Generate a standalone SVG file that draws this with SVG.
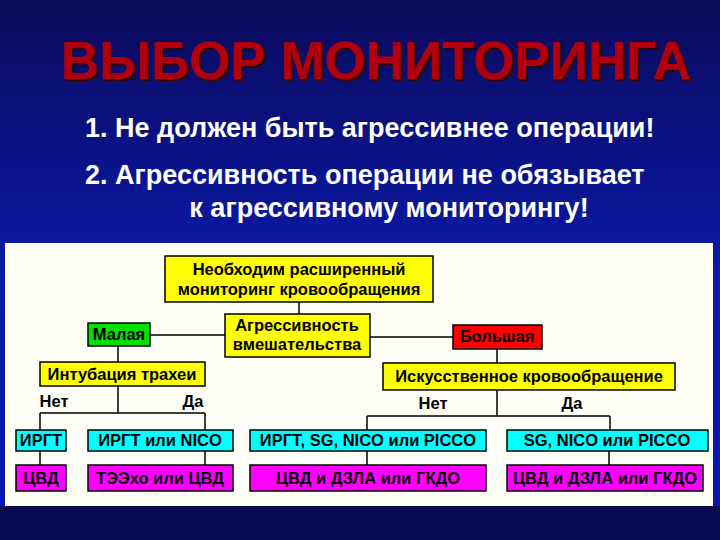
<svg xmlns="http://www.w3.org/2000/svg" width="720" height="540" viewBox="0 0 720 540">
<defs>
<linearGradient id="bg" x1="0" y1="0" x2="0" y2="1">
<stop offset="0" stop-color="#0a0a5a"/><stop offset="0.5" stop-color="#0a1aa8"/><stop offset="1" stop-color="#0a14b0"/>
</linearGradient>
<filter id="sh"><feDropShadow dx="2" dy="2" stdDeviation="0.5" flood-color="#300000"/></filter>
<style>
.b{stroke:#000;stroke-width:1.5}
.y{fill:#ffff00}.g{fill:#00e000}.r{fill:#ff0000}.c{fill:#00ffff}.m{fill:#ff00ff}
.t{font-family:"Liberation Sans",Arial,sans-serif;font-weight:bold;font-size:16.5px;fill:#000;text-anchor:middle}
.w{font-family:"Liberation Sans",Arial,sans-serif;font-weight:bold;font-size:27px;fill:#fff}
.l{stroke:#000;stroke-width:1.5;fill:none}
</style>
</defs>
<rect width="720" height="540" fill="url(#bg)"/>
<rect x="0" y="506" width="720" height="34" fill="#0a0a50"/>
<text x="376" y="79" text-anchor="middle" font-family="Liberation Sans,Arial,sans-serif" font-weight="bold" font-size="53" fill="#b00010" filter="url(#sh)">ВЫБОР МОНИТОРИНГА</text>
<text class="w" x="85" y="137">1. Не должен быть агрессивнее операции!</text>
<text class="w" x="85" y="184">2. Агрессивность операции не обязывает</text>
<text class="w" x="389" y="217" text-anchor="middle">к агрессивному мониторингу!</text>
<rect x="5" y="243" width="708" height="263" fill="#fffff8"/>
<g id="connectors">
<path class="l" d="M299 302V314M150 335H225M370 337H453M118 346V362M497 349V363M118 386V413M40 413H205M40 413V430M205 413V430M497 390V416M367 416H610M367 416V430M610 416V430M40 451V465M205 451V465M367 451V465M609 451V465"/>
</g>
<g id="n1"><rect class="b y" x="165" y="256" width="268" height="46"/><text class="t" x="299" y="275">Необходим расширенный</text><text class="t" x="299" y="295">мониторинг кровообращения</text></g>
<g id="n2"><rect class="b y" x="225" y="314" width="145" height="43"/><text class="t" x="297" y="331">Агрессивность</text><text class="t" x="297" y="350">вмешательства</text></g>
<g id="n3"><rect class="b g" x="88" y="323" width="62" height="23"/><text class="t" x="119" y="340">Малая</text></g>
<g id="n4"><rect class="b r" x="453" y="325" width="89" height="24"/><text class="t" x="497" y="342">Большая</text></g>
<g id="n5"><rect class="b y" x="40" y="362" width="165" height="24"/><text class="t" x="122" y="380">Интубация трахеи</text></g>
<g id="n6"><rect class="b y" x="383" y="363" width="292" height="27"/><text class="t" x="529" y="382">Искусственное кровообращение</text></g>
<g id="lbl"><text class="t" x="54" y="407">Нет</text><text class="t" x="193" y="407">Да</text><text class="t" x="433" y="409">Нет</text><text class="t" x="572" y="409">Да</text></g>
<g id="n7"><rect class="b c" x="16" y="430" width="50" height="21"/><text class="t" x="41" y="446">ИРГТ</text></g>
<g id="n8"><rect class="b c" x="88" y="430" width="145" height="21"/><text class="t" x="160" y="446">ИРГТ или NICO</text></g>
<g id="n9"><rect class="b c" x="250" y="430" width="236" height="21"/><text class="t" x="368" y="446">ИРГТ, SG, NICO или PICCO</text></g>
<g id="n10"><rect class="b c" x="507" y="430" width="201" height="21"/><text class="t" x="607" y="446">SG, NICO или PICCO</text></g>
<g id="n11"><rect class="b m" x="16" y="465" width="50" height="26"/><text class="t" x="41" y="484">ЦВД</text></g>
<g id="n12"><rect class="b m" x="88" y="465" width="145" height="26"/><text class="t" x="160" y="484">ТЭЭхо или ЦВД</text></g>
<g id="n13"><rect class="b m" x="250" y="465" width="236" height="26"/><text class="t" x="368" y="484">ЦВД и ДЗЛА или ГКДО</text></g>
<g id="n14"><rect class="b m" x="507" y="465" width="196" height="26"/><text class="t" x="605" y="484">ЦВД и ДЗЛА или ГКДО</text></g>
</svg>
